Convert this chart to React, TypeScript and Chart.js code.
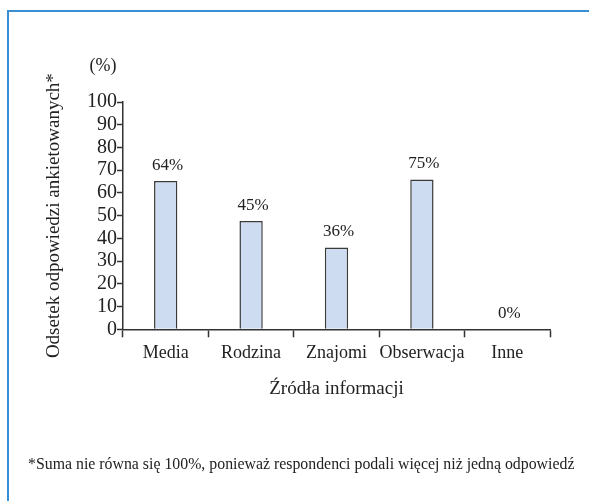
import React, { useEffect, useRef } from "react";
import { Chart, registerables } from "chart.js";

Chart.register(...registerables);

const categories = ["Media", "Rodzina", "Znajomi", "Obserwacja", "Inne"];
const barValues = [65.2, 47.6, 36.0, 65.9, 0];
const barLabels = ["64%", "45%", "36%", "75%", "0%"];
const yTicks = [0, 10, 20, 30, 40, 50, 60, 70, 80, 90, 100];
const yAxisTitle = "Odsetek odpowiedzi ankietowanych*";
const xAxisTitle = "Źródła informacji";
const unitLabel = "(%)";
const footnote = "*Suma nie równa się 100%, ponieważ respondenci podali więcej niż jedną odpowiedź";

const FONT = "'Liberation Serif', 'Times New Roman', serif";
const W = 589;
const H = 501;

export default function App() {
  const ref = useRef<HTMLCanvasElement | null>(null);

  useEffect(() => {
    const canvas = ref.current;
    if (!canvas) return;

    const textPlugin = {
      id: "extraText",
      afterDatasetsDraw(chart: any) {
        const ctx = chart.ctx;
        ctx.save();
        ctx.fillStyle = "#222";
        ctx.textAlign = "center";
        ctx.textBaseline = "middle";
        ctx.font = `17px ${FONT}`;
        const meta = chart.getDatasetMeta(0);
        meta.data.forEach((bar: any, i: number) => {
          ctx.fillText(barLabels[i], bar.x + 2, bar.y - 16);
        });
        ctx.font = `18px ${FONT}`;
        ctx.fillText(unitLabel, 103, 66);
        ctx.font = `15.85px ${FONT}`;
        ctx.textAlign = "left";
        ctx.fillText(footnote, 28, 465);
        ctx.restore();
      },
    };

    const chart = new Chart(canvas, {
      type: "bar",
      data: {
        labels: categories,
        datasets: [
          {
            data: barValues,
            backgroundColor: "#cddcf1",
            borderColor: "#3a3a3a",
            borderWidth: 1.5,
            barPercentage: 0.273,
            categoryPercentage: 1,
          },
        ],
      },
      options: {
        responsive: false,
        animation: false,
        devicePixelRatio: 1,
        layout: { padding: { top: 102, right: 39, bottom: 0, left: 0 } },
        plugins: {
          legend: { display: false },
          tooltip: { enabled: false },
        },
        scales: {
          x: {
            afterFit(scale: any) {
              scale.height = 171.7;
            },
            grid: {
              offset: true,
              drawOnChartArea: false,
              drawTicks: true,
              tickLength: 8,
              tickColor: "#333",
              tickWidth: 1.5,
            },
            border: { color: "#333", width: 1.5 },
            ticks: {
              color: "#222",
              padding: 5,
              autoSkip: false,
              maxRotation: 0,
              minRotation: 0,
              font: { family: FONT, size: 18 },
            },
            title: {
              display: true,
              text: xAxisTitle,
              color: "#222",
              font: { family: FONT, size: 19 },
              padding: { top: 0, bottom: 100.6 },
            },
          },
          y: {
            min: 0,
            max: 100,
            afterFit(scale: any) {
              scale.width = 123;
            },
            afterBuildTicks(scale: any) {
              scale.ticks = yTicks.map((v) => ({ value: v }));
            },
            grid: {
              drawOnChartArea: false,
              drawTicks: true,
              tickLength: 6,
              tickColor: "#333",
              tickWidth: 1.5,
            },
            border: { color: "#333", width: 1.5 },
            ticks: {
              color: "#222",
              padding: 0,
              autoSkip: false,
              font: { family: FONT, size: 20 },
            },
            title: {
              display: true,
              text: yAxisTitle,
              color: "#222",
              font: { family: FONT, size: 19 },
              padding: { top: 43, bottom: 0 },
            },
          },
        },
      },
      plugins: [textPlugin],
    } as any);

    return () => chart.destroy();
  }, []);

  return (
    <div style={{ position: "absolute", left: 0, top: 0, width: W, height: H, background: "#fff", overflow: "hidden" }}>
      <div
        style={{
          position: "absolute",
          left: 7,
          top: 10,
          width: 620,
          height: 520,
          borderLeft: "2px solid #3a8ed3",
          borderTop: "2px solid #3a8ed3",
          boxSizing: "border-box",
        }}
      />
      <canvas ref={ref} width={W} height={H} style={{ position: "absolute", left: 0, top: 0, display: "block" }} />
    </div>
  );
}
